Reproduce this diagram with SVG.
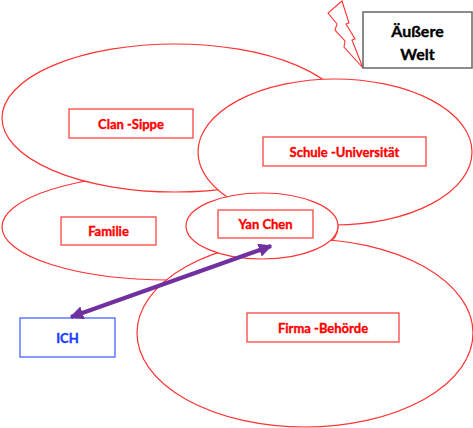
<svg xmlns="http://www.w3.org/2000/svg" width="473" height="428" viewBox="0 0 473 428">
<style>
.ell{fill:#fff;stroke:#f33;stroke-width:1.2}
.box{fill:#fff;stroke:#f44;stroke-width:1.3}
.t{font-family:Lato,"Open Sans","Liberation Sans",sans-serif;font-weight:bold;font-size:13px;fill:#f00;stroke:#f00;stroke-width:0.35;text-anchor:middle;dominant-baseline:central}
</style>
<defs>
<marker id="ah" viewBox="0 0 10 10" refX="9" refY="5" markerWidth="3.4" markerHeight="3.4" orient="auto-start-reverse" markerUnits="strokeWidth">
<path d="M0,0 L10,5 L0,10 Z" fill="#7030A0"/>
</marker>
</defs>
<rect width="473" height="428" fill="#fff"/>
<g id="familie">
<ellipse class="ell" cx="170" cy="227" rx="168" ry="53"/>
</g>
<g id="clan">
<ellipse class="ell" cx="175" cy="118" rx="173" ry="74"/>
</g>
<g id="schule">
<ellipse class="ell" cx="335" cy="152" rx="137" ry="73"/>
</g>
<g id="firma">
<ellipse class="ell" cx="305" cy="333" rx="168" ry="94"/>
</g>
<g id="yanchen-ellipse">
<ellipse class="ell" cx="262" cy="226" rx="76" ry="33"/>
</g>
<g id="clan-label">
<rect class="box" x="69" y="109" width="124" height="29"/>
<text class="t" x="131" y="123.5">Clan -Sippe</text>
</g>
<g id="schule-label">
<rect class="box" x="263" y="137" width="163" height="29"/>
<text class="t" x="344.5" y="151.5">Schule -Universität</text>
</g>
<g id="familie-label">
<rect class="box" x="61" y="217" width="95" height="28"/>
<text class="t" x="108.5" y="231">Familie</text>
</g>
<g id="yanchen">
<rect class="box" x="218" y="210" width="95" height="28"/>
<text class="t" x="265.5" y="224">Yan Chen</text>
</g>
<g id="firma-label">
<rect class="box" x="247" y="313" width="152" height="29"/>
<text class="t" x="323" y="327.5">Firma -Behörde</text>
</g>
<g id="ich">
<rect x="20" y="318" width="95" height="39" fill="#fff" stroke="#4466ff" stroke-width="1.3"/>
<text class="t" x="67.5" y="337.5" style="fill:#1a3cff;stroke:#1a3cff">ICH</text>
</g>
<g id="aeussere-welt">
<polygon points="342,1 328,13 337,24 335,30 345,41 344,47 363,68 352,40 355,39 346,24 349,23" fill="#fff" stroke="#f33" stroke-width="1.1"/>
<rect x="363" y="12" width="109" height="56" fill="#fff" stroke="#666" stroke-width="1.5"/>
<text class="t" x="417.5" y="30" style="fill:#000;stroke:#000;font-size:16px">Äußere</text>
<text class="t" x="417.5" y="53" style="fill:#000;stroke:#000;font-size:16px">Welt</text>
</g>
<g id="connectors">
<line x1="71" y1="317" x2="271" y2="246" stroke="#7030A0" stroke-width="4" marker-start="url(#ah)" marker-end="url(#ah)"/>
</g>
</svg>
